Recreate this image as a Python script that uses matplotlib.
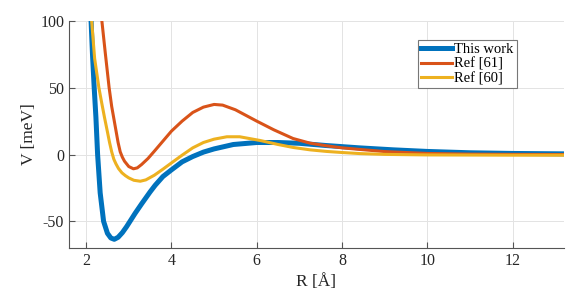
import matplotlib
matplotlib.use("Agg")
import matplotlib.pyplot as plt

plt.rcParams['font.family'] = ['Liberation Serif', 'DejaVu Serif']
plt.rcParams['axes.unicode_minus'] = False

# valeurs (R en Å, V en meV)
r_this = [2.117, 2.15, 2.19, 2.23, 2.27, 2.33, 2.41, 2.5, 2.58, 2.66, 2.75, 2.85,
          2.95, 3.05, 3.15, 3.3, 3.5, 3.62, 3.8, 4.0, 4.25, 4.5, 4.75, 5.0, 5.45,
          6.0, 6.5, 7.0, 7.6, 8.4, 9.2, 10.0, 11.0, 12.0, 13.2]
v_this = [100, 75, 50, 28, 0, -28.7, -50, -59, -62.5, -63.5, -62, -58.5,
          -54, -49, -44, -37, -28, -23, -16.5, -11.5, -5.5, -1.5, 1.8, 4.2, 7.5,
          9, 9, 8.4, 6.8, 5, 3.5, 2.3, 1.3, 0.8, 0.5]

r_61 = [2.37, 2.45, 2.54, 2.6, 2.7, 2.75, 2.8, 2.85, 2.9, 3.0, 3.11, 3.2, 3.3,
        3.45, 3.6, 3.8, 4.0, 4.25, 4.5, 4.75, 5.0, 5.2, 5.5, 6.0, 6.4, 6.85,
        7.25, 7.64, 8.0, 8.42, 9.0, 10.0, 11.0, 12.0, 13.2]
v_61 = [100, 76, 50, 36, 18, 9, 2, -2, -5, -9, -10.7, -10, -7.5,
        -3, 2.5, 10, 17.5, 25, 31.5, 35.5, 37.5, 37, 33.5, 25, 18.5, 12,
        8.5, 6.5, 5, 3.8, 2.2, 0.8, 0.3, 0.1, 0]

r_60 = [2.13, 2.2, 2.3, 2.37, 2.43, 2.5, 2.55, 2.6, 2.65, 2.7, 2.76, 2.84, 2.92,
        3.0, 3.12, 3.27, 3.4, 3.6, 3.8, 4.0, 4.25, 4.5, 4.75, 5.0, 5.3, 5.6,
        6.08, 6.5, 6.85, 7.25, 7.64, 8.0, 8.42, 9.0, 10.0, 11.0, 12.0, 13.2]
v_60 = [100, 72, 50, 38, 28, 17, 9, 2, -3.5, -7, -10.5, -13.7, -15.8,
        -17.5, -19.3, -20, -19, -15.5, -11, -6.3, -0.5, 5, 9, 11.5, 13.3, 13.3,
        10.5, 7.5, 5.3, 3.5, 2.3, 1.5, 0.7, 0.1, -0.3, -0.4, -0.5, -0.5]

labels = ['This work', 'Ref [61]', 'Ref [60]']
couleurs = ['#0072BD', '#D95319', '#EDB120']

fig = plt.figure(figsize=(5.81, 2.94), dpi=100)
ax = fig.add_axes([0.1188, 0.1565, 0.8519, 0.7721])

ax.plot(r_this, v_this, color=couleurs[0], lw=3.6, label=labels[0], zorder=3,
        solid_joinstyle='round')
ax.plot(r_61, v_61, color=couleurs[1], lw=2.2, label=labels[1], zorder=4,
        solid_joinstyle='round')
ax.plot(r_60, v_60, color=couleurs[2], lw=2.2, label=labels[2], zorder=4,
        solid_joinstyle='round')

ax.set_xlim(1.6, 13.2)
ax.set_ylim(-70, 100)
ax.set_xticks([2, 4, 6, 8, 10, 12])
ax.set_yticks([-50, 0, 50, 100])

ax.grid(True, color='#e3e3e3', lw=0.7)
ax.set_axisbelow(True)
for cote in ['top', 'right']:
    ax.spines[cote].set_visible(False)
for cote in ['left', 'bottom']:
    ax.spines[cote].set_color('#555555')
    ax.spines[cote].set_linewidth(0.8)
ax.tick_params(direction='in', length=4, width=0.8, color='#555555',
               labelsize=11.5, labelcolor='#262626')

ax.set_xlabel('R [Å]', fontsize=12.5, color='#262626', labelpad=4)
ax.set_ylabel('V [meV]', fontsize=12.5, color='#262626', labelpad=2)

leg = ax.legend(loc='upper left', bbox_to_anchor=(0.705, 0.916), borderaxespad=0,
                fontsize=10.5, fancybox=False, edgecolor='#777777', framealpha=1,
                handlelength=2.1, handletextpad=0.2, labelspacing=0.08,
                borderpad=0.2)
leg.get_frame().set_linewidth(0.8)

fig.savefig('out.png', dpi=100)
